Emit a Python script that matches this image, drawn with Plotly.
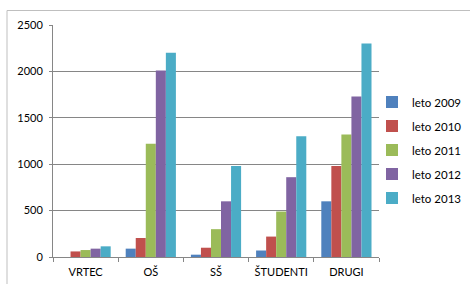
import plotly.graph_objects as go

categories = ["VRTEC", "OŠ", "SŠ", "ŠTUDENTI", "DRUGI"]
series_names = ["leto 2009", "leto 2010", "leto 2011", "leto 2012", "leto 2013"]
v2009 = [0, 90, 25, 70, 600]
v2010 = [60, 205, 100, 220, 980]
v2011 = [75, 1220, 300, 490, 1320]
v2012 = [90, 2010, 600, 860, 1730]
v2013 = [115, 2200, 980, 1300, 2300]
values = [v2009, v2010, v2011, v2012, v2013]
colors = ["#4F81BD", "#C0504D", "#9BBB59", "#8064A2", "#4BACC6"]
y_ticks = [0, 500, 1000, 1500, 2000, 2500]

fig = go.Figure()
for name, vals, col in zip(series_names, values, colors):
    fig.add_trace(go.Bar(x=categories, y=vals, name=name, marker_color=col,
                         marker_line_width=0, legendgroup=name))

W, H = 470, 284
L, R, T, B = 53, 91, 25, 27
pw, ph = W - L - R, H - T - B

fig.update_layout(
    width=W, height=H,
    margin=dict(l=L, r=R, t=T, b=B, autoexpand=False),
    paper_bgcolor="white", plot_bgcolor="white",
    font=dict(family="Lato, Liberation Sans, sans-serif", size=11, color="#000000"),
    barmode="group", bargap=0.23, bargroupgap=0,
    showlegend=True,
    legend=dict(x=(372 - L) / pw, y=(H - B - 150) / ph, xanchor="left", yanchor="middle",
                tracegroupgap=5, font=dict(size=11.5), itemwidth=30,
                bgcolor="rgba(0,0,0,0)"),
    xaxis=dict(showline=True, linecolor="#868686", linewidth=1,
               ticks="outside", ticklen=4, tickcolor="#868686", tickangle=0,
               automargin=False, ticklabelstandoff=5,
               tickson="boundaries", showgrid=False, fixedrange=True),
    yaxis=dict(range=[0, 2500], tickvals=y_ticks, showgrid=True, gridcolor="#868686",
               gridwidth=1, showline=True, linecolor="#868686", linewidth=1,
               ticks="outside", ticklen=3, tickcolor="#868686", zeroline=False,
               automargin=False, ticklabelstandoff=4, fixedrange=True),
    shapes=[dict(type="rect", xref="paper", yref="paper",
                 x0=(7 - L) / pw, x1=(W + 20 - L) / pw,
                 y0=-0.5, y1=(H - B - 10.5) / ph,
                 line=dict(color="#BFBFBF", width=1), layer="below")],
)

fig.write_html("out.html", config={"displayModeBar": False},
               post_script="document.body.style.margin='0';document.body.style.overflow='hidden';")
